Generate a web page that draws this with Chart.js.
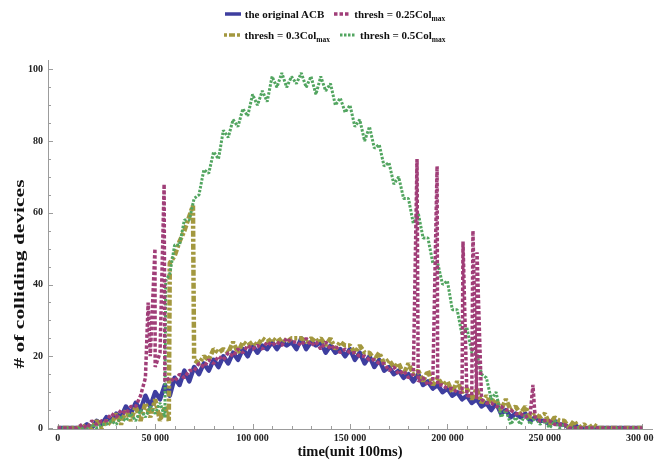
<!DOCTYPE html>
<html>
<head>
<meta charset="utf-8">
<title>Colliding devices over time</title>
<script src="https://cdn.jsdelivr.net/npm/chart.js@4.4.0/dist/chart.umd.min.js"></script>
<style>
    body { margin: 0; background: #fff; }
    #wrap { position: relative; width: 654px; height: 467px; }
    #legend { position: absolute; left: 0; top: 3.5px; width: 670px; font: bold 11px "Liberation Serif", serif; color: #111; }
    .row { display: flex; justify-content: center; align-items: center; height: 21px; }
    .item { display: flex; align-items: center; margin: 0 5px; white-space: nowrap; }
    .item svg { margin-right: 4px; }
    .item sub { font-size: 7.5px; vertical-align: baseline; position: relative; top: 3px; }
</style>
</head>
<body>
<div id="wrap">
    <canvas id="collisionChart"></canvas>
    <div id="legend"></div>
</div>
<script>
// sampling times (unit 100ms)
const times = [
    0, 2500, 5000, 7500, 10000, 12500, 15000, 17500, 20000, 22500,
    25000, 27500, 30000, 32500, 35000, 37500, 40000, 42500, 45000, 47500,
    50000, 52500, 55000, 57500, 60000, 62500, 65000, 67500, 70000, 72500,
    75000, 77500, 80000, 82500, 85000, 87500, 90000, 92500, 95000, 97500,
    100000, 102500, 105000, 107500, 110000, 112500, 115000, 117500, 120000, 122500,
    125000, 127500, 130000, 132500, 135000, 137500, 140000, 142500, 145000, 147500,
    150000, 152500, 155000, 157500, 160000, 162500, 165000, 167500, 170000, 172500,
    175000, 177500, 180000, 182500, 185000, 187500, 190000, 192500, 195000, 197500,
    200000, 202500, 205000, 207500, 210000, 212500, 215000, 217500, 220000, 222500,
    225000, 227500, 230000, 232500, 235000, 237500, 240000, 242500, 245000, 247500,
    250000, 252500, 255000, 257500, 260000, 262500, 265000, 267500, 270000, 272500,
    275000, 277500, 280000, 282500, 285000, 287500, 290000, 292500, 295000, 297500,
    300000
];

// # of colliding devices at each sampling time
const acbValues = [
    0, 0, 0, 0, 0, 0, 1, 0, 2, 1,
    3, 2, 4, 3, 6, 4, 7, 5, 9, 6,
    10, 8, 12, 9, 14, 12, 16, 13, 17, 15,
    18, 16, 19, 17, 20, 18, 21, 19, 22, 20,
    23, 21, 23, 22, 24, 22, 24, 23, 24, 22,
    25, 22, 24, 23, 24, 21, 23, 21, 22, 20,
    22, 19, 21, 18, 20, 17, 19, 16, 17, 15,
    16, 14, 15, 13, 15, 12, 13, 11, 12, 10,
    11, 9, 10, 8, 9, 7, 8, 6, 7, 5,
    7, 4, 5, 3, 4, 3, 4, 2, 3, 2,
    2, 1, 2, 1, 1, 0, 1, 0, 0, 0,
    0, 0, 0, 0, 0, 0, 0, 0, 0, 0,
    0
];
const thresh25Values = [
    0, 0, 0, 0, 0, 1, 0, 2, 1, 2,
    2, 4, 3, 5, 4, 6, 6, 9, 14, 20,
    17, 21, 13, 14, 13, 15, 14, 16, 16, 18,
    17, 19, 18, 20, 19, 21, 20, 22, 21, 23,
    22, 23, 22, 24, 23, 24, 23, 25, 24, 24,
    23, 25, 23, 24, 22, 24, 22, 23, 21, 22,
    21, 21, 20, 20, 19, 19, 18, 18, 16, 17,
    15, 16, 14, 15, 13, 14, 12, 13, 12, 12,
    11, 11, 10, 10, 9, 9, 8, 8, 7, 7,
    6, 6, 5, 5, 4, 4, 3, 4, 3, 2,
    2, 2, 1, 1, 1, 0, 0, 0, 0, 0,
    0, 0, 0, 0, 0, 0, 0, 0, 0, 0,
    0
];
const thresh30Values = [
    0, 0, 0, 0, 0, 0, 1, 0, 2, 0,
    2, 1, 4, 1, 5, 2, 6, 2, 7, 3,
    8, 2, 6, 46, 48, 52, 55, 59, 19, 18,
    20, 19, 22, 21, 22, 21, 24, 21, 24, 23,
    24, 23, 25, 24, 25, 24, 25, 24, 25, 25,
    25, 24, 25, 24, 25, 23, 25, 22, 24, 23,
    23, 21, 23, 21, 21, 19, 21, 18, 19, 17,
    18, 15, 18, 15, 16, 13, 16, 12, 14, 12,
    13, 10, 13, 10, 11, 8, 11, 7, 9, 7,
    8, 5, 8, 5, 6, 4, 6, 3, 4, 3,
    4, 1, 3, 2, 2, 0, 2, 0, 1, 0,
    1, 0, 0, 0, 0, 0, 0, 0, 0, 0,
    0
];
const thresh50Values = [
    0, 0, 0, 0, 0, 0, 0, 1, 0, 1,
    1, 2, 1, 3, 2, 4, 2, 5, 3, 6,
    4, 7, 3, 43, 51, 51, 58, 58, 64, 65,
    72, 71, 77, 75, 83, 81, 86, 84, 89, 87,
    93, 90, 94, 91, 98, 95, 99, 95, 98, 96,
    99, 95, 98, 93, 98, 94, 96, 90, 92, 88,
    90, 84, 86, 80, 84, 78, 79, 73, 74, 68,
    70, 64, 64, 57, 60, 53, 53, 46, 46, 40,
    41, 33, 33, 26, 28, 21, 21, 15, 14, 8,
    10, 3, 5, 1, 3, 1, 4, 1, 3, 1,
    2, 0, 2, 0, 1, 0, 0, 0, 0, 0,
    0, 0, 0, 0, 0, 0, 0, 0, 0, 0,
    0
];

// bursts and jumps that fall between two sampling times: [time, devices]
const thresh25Extra = [[46400, 35], [49900, 50], [54600, 68], [184400, 75], [194700, 73],
    [208000, 52], [213100, 55], [215200, 49], [243900, 12]];
const thresh30Extra = [[57000, 2], [69400, 62]];
const thresh50Extra = [[55400, 41]];

const seriesNames = ['the original ACB', 'thresh = 0.25Col', 'thresh = 0.3Col', 'thresh = 0.5Col'];
const seriesSubs = ['', 'max', 'max', 'max'];

const xMajorTicks = [0, 50000, 100000, 150000, 200000, 250000, 300000];
const xTickLabels = ['0', '50 000', '100 000', '150 000', '200 000', '250 000', '300 000'];
const yMajorTicks = [0, 20, 40, 60, 80, 100];
const yTickLabels = ['0', '20', '40', '60', '80', '100'];
const xMinorStep = 10000;
const yMinorStep = 5;

const xAxisTitle = 'time(unit 100ms)';
const yAxisTitle = '# of colliding devices';

const serif = '"Liberation Serif", "Times New Roman", serif';
const axisColor = '#9c9c9c';

function buildPoints(values, extra) {
    const points = times.map((t, i) => ({ x: t, y: values[i] }));
    extra.forEach(([t, v]) => points.push({ x: t, y: v }));
    return points.sort((a, b) => a.x - b.x);
}

function tickList(majors, step) {
    const list = [];
    const last = majors[majors.length - 1];
    for (let v = majors[0]; v <= last; v += step) {
        list.push({ value: v });
    }
    return list;
}

const datasets = [
    {
        label: seriesNames[0] + seriesSubs[0],
        data: buildPoints(acbValues, []),
        borderColor: '#3e3e9f',
        borderWidth: 4.5,
        borderDash: [],
        borderJoinStyle: 'round',
        order: 4
    },
    {
        label: seriesNames[1] + seriesSubs[1],
        data: buildPoints(thresh25Values, thresh25Extra),
        borderColor: '#a03e78',
        borderWidth: 3.5,
        borderDash: [3.5, 2],
        borderJoinStyle: 'bevel',
        order: 1
    },
    {
        label: seriesNames[2] + seriesSubs[2],
        data: buildPoints(thresh30Values, thresh30Extra),
        borderColor: '#a3983f',
        borderWidth: 4.5,
        borderDash: [3, 2, 6, 2],
        borderJoinStyle: 'bevel',
        order: 3
    },
    {
        label: seriesNames[3] + seriesSubs[3],
        data: buildPoints(thresh50Values, thresh50Extra),
        borderColor: '#52a560',
        borderWidth: 3,
        borderDash: [2.5, 1.5],
        borderJoinStyle: 'bevel',
        order: 2
    }
];

// inward tick marks, long on labelled values and short in between
const axisTicks = {
    id: 'axisTicks',
    beforeDatasetsDraw(chart) {
        const { ctx, chartArea, scales: { x, y } } = chart;
        ctx.save();
        ctx.strokeStyle = axisColor;
        ctx.lineWidth = 1;
        ctx.beginPath();
        x.ticks.forEach(tick => {
            const px = Math.round(x.getPixelForValue(tick.value)) + 0.5;
            const len = xMajorTicks.includes(tick.value) ? 5 : 3;
            ctx.moveTo(px, chartArea.bottom);
            ctx.lineTo(px, chartArea.bottom - len);
        });
        y.ticks.forEach(tick => {
            const py = Math.round(y.getPixelForValue(tick.value)) + 0.5;
            const len = yMajorTicks.includes(tick.value) ? 5 : 3;
            ctx.moveTo(chartArea.left, py);
            ctx.lineTo(chartArea.left + len, py);
        });
        ctx.stroke();
        ctx.restore();
    }
};

// vertical axis title, drawn wide along its length
const yTitle = {
    id: 'yTitle',
    afterDraw(chart) {
        const ctx = chart.ctx;
        ctx.save();
        ctx.translate(20.5, 274);
        ctx.rotate(-Math.PI / 2);
        ctx.scale(1.48, 1);
        ctx.font = 'bold 14.5px ' + serif;
        ctx.fillStyle = '#111';
        ctx.textAlign = 'center';
        ctx.textBaseline = 'middle';
        ctx.fillText(yAxisTitle, 0, 0);
        ctx.restore();
    }
};

const ctx = document.getElementById('collisionChart').getContext('2d');

const collisionChart = new Chart(ctx, {
    type: 'line',
    data: { datasets: datasets },
    options: {
        responsive: true,
        maintainAspectRatio: false,
        animation: false,
        events: [],
        devicePixelRatio: 1,
        layout: { padding: { top: 60, right: 2, bottom: 0, left: 0 } },
        elements: {
            point: { radius: 0 },
            line: { tension: 0, fill: false, borderCapStyle: 'butt' }
        },
        plugins: {
            legend: { display: false },
            tooltip: { enabled: false }
        },
        scales: {
            x: {
                type: 'linear',
                min: -5000,
                max: 305000,
                grid: { display: false, drawTicks: false },
                border: { display: true, color: axisColor, width: 1 },
                afterBuildTicks: scale => { scale.ticks = tickList(xMajorTicks, xMinorStep); },
                afterFit: scale => {
                    scale.height = 38;
                    scale.paddingLeft = 0;
                    scale.paddingRight = 0;
                },
                ticks: {
                    autoSkip: false,
                    maxRotation: 0,
                    padding: 3,
                    color: '#222',
                    font: { family: serif, size: 10, weight: 'bold' },
                    callback: function(value) {
                        const i = xMajorTicks.indexOf(value);
                        return i >= 0 ? xTickLabels[i] : '';
                    }
                },
                title: {
                    display: true,
                    text: xAxisTitle,
                    color: '#111',
                    font: { family: serif, size: 14.5, weight: 'bold' },
                    padding: { top: 0, bottom: 6 }
                }
            },
            y: {
                type: 'linear',
                min: -0.28,
                max: 102.6,
                grid: { display: false, drawTicks: false },
                border: { display: true, color: axisColor, width: 1 },
                afterBuildTicks: scale => { scale.ticks = tickList(yMajorTicks, yMinorStep); },
                afterFit: scale => {
                    scale.width = 48;
                    scale.paddingTop = 0;
                    scale.paddingBottom = 0;
                },
                ticks: {
                    autoSkip: false,
                    padding: 5,
                    color: '#222',
                    font: { family: serif, size: 10, weight: 'bold' },
                    callback: function(value) {
                        const i = yMajorTicks.indexOf(value);
                        return i >= 0 ? yTickLabels[i] : '';
                    }
                }
            }
        }
    },
    plugins: [axisTicks, yTitle]
});

// two-row legend, with the "max" part set as a subscript
function swatch(ds) {
    const dash = ds.borderDash.length ? ds.borderDash.join(' ') : 'none';
    return `<svg width="16" height="6"><line x1="0" y1="3" x2="16" y2="3" stroke="${ds.borderColor}" ` +
        `stroke-width="${Math.min(ds.borderWidth, 3.5)}" stroke-dasharray="${dash}"/></svg>`;
}

const legendEl = document.getElementById('legend');
[[0, 1], [2, 3]].forEach(rowItems => {
    const row = document.createElement('div');
    row.className = 'row';
    rowItems.forEach(i => {
        const item = document.createElement('span');
        item.className = 'item';
        const sub = seriesSubs[i] ? `<sub>${seriesSubs[i]}</sub>` : '';
        item.innerHTML = swatch(datasets[i]) + `<span>${seriesNames[i]}${sub}</span>`;
        row.appendChild(item);
    });
    legendEl.appendChild(row);
});
</script>
</body>
</html>
